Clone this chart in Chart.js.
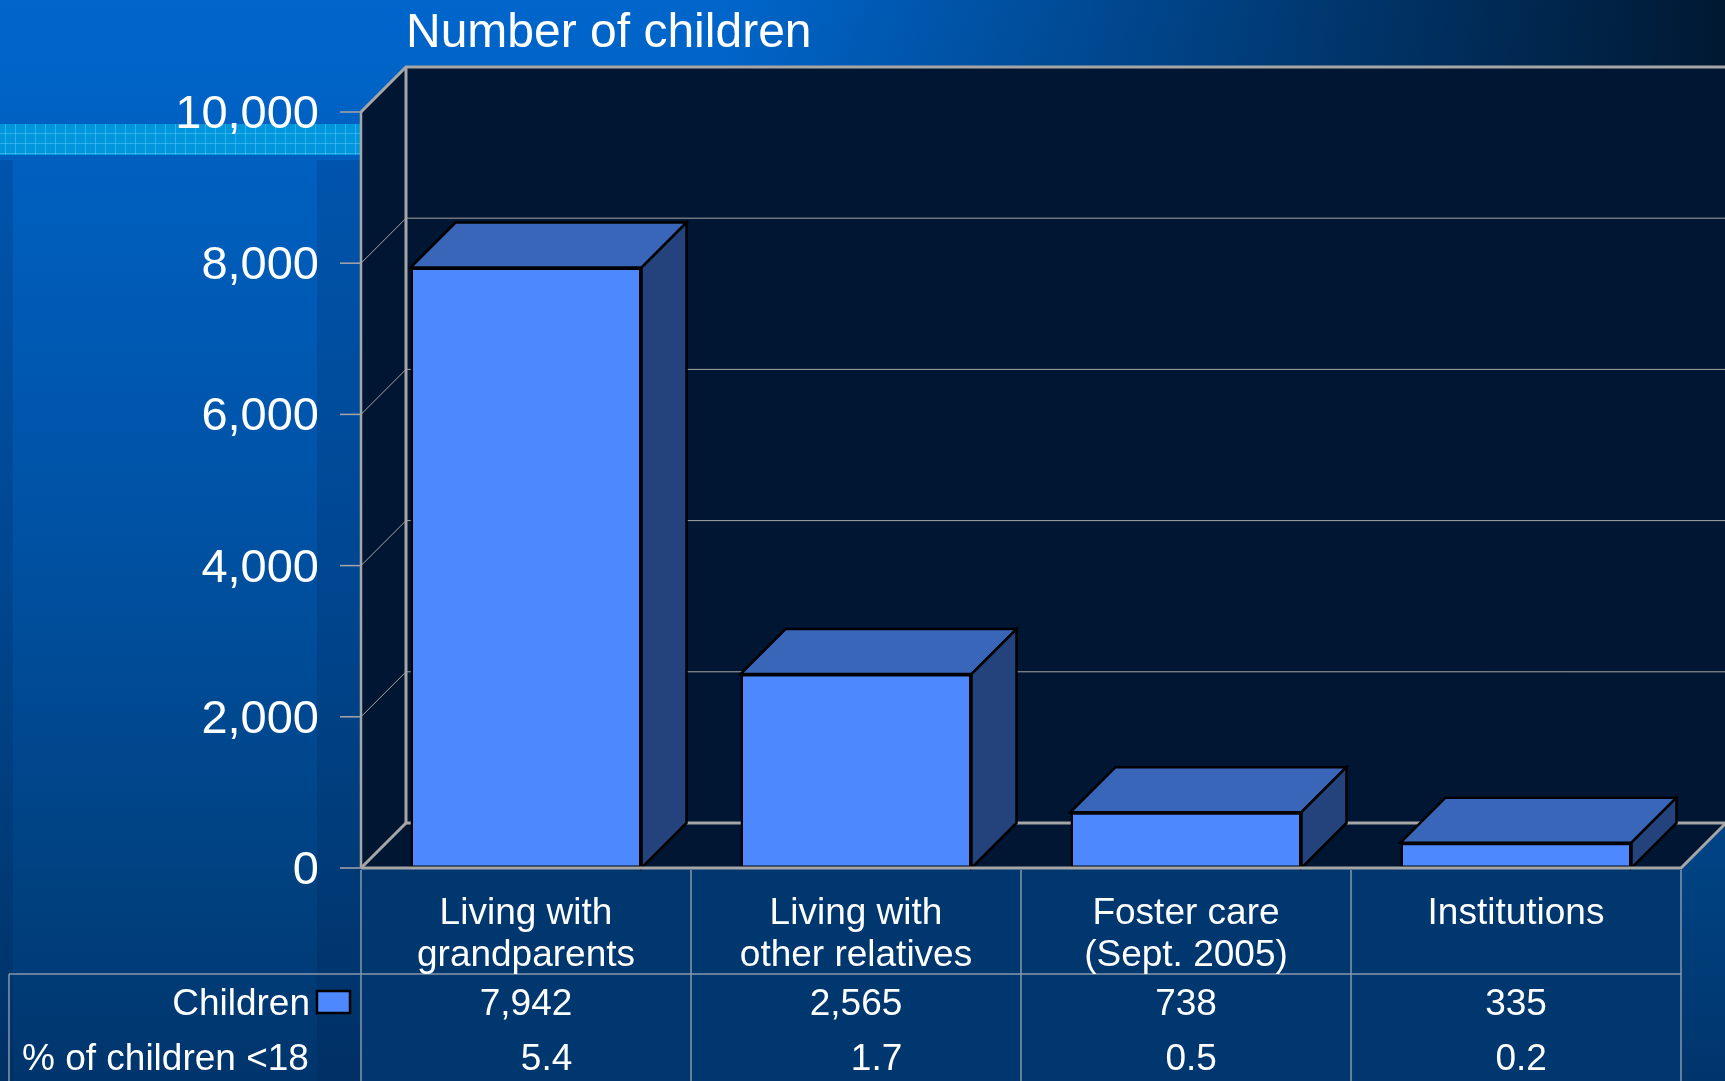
<!DOCTYPE html>
<html>
<head>
<meta charset="utf-8">
<title>Number of children</title>
<script src="https://cdn.jsdelivr.net/npm/chart.js@4.4.1/dist/chart.umd.min.js"></script>
<style>
    html, body { margin: 0; padding: 0; background: #003f80; overflow: hidden; }
    canvas { display: block; }
</style>
</head>
<body>
<canvas id="childrenChart" width="1725" height="1081"></canvas>
<script>
// Chart data
const categories = [
    ['Living with', 'grandparents'],
    ['Living with', 'other relatives'],
    ['Foster care', '(Sept. 2005)'],
    ['Institutions']
];
const childrenCounts = [7942, 2565, 738, 335];
const percentUnder18 = [5.4, 1.7, 0.5, 0.2];
const yTickValues = [0, 2000, 4000, 6000, 8000, 10000];
const seriesName = 'Children';
const percentRowName = '% of children <18';
const chartTitle = 'Number of children';

// Look
const FONT = '"Liberation Sans", Arial, sans-serif';
const DEPTH_X = 45;
const DEPTH_Y = 45;
const PLOT_BG = '#011633';
const TABLE_BG = '#00376f';
const GRID = '#a6a6a6';
const TABLE_LINE = '#8797ab';
const BAR_FRONT = '#4d88ff';
const BAR_TOP = '#3a66ba';
const BAR_SIDE = '#24437c';
const TEXT_DY = 3; // nudge for middle baseline

function line(ctx, pts, width, color) {
    ctx.save();
    ctx.strokeStyle = color;
    ctx.lineWidth = width;
    ctx.beginPath();
    ctx.moveTo(pts[0][0], pts[0][1]);
    for (let i = 1; i < pts.length; i++) ctx.lineTo(pts[i][0], pts[i][1]);
    ctx.stroke();
    ctx.restore();
}

function drawSlideBackground(ctx, w, h) {
    let g = ctx.createLinearGradient(0, 0, 0, h);
    g.addColorStop(0, '#0066cc');
    g.addColorStop(0.5, '#0051a3');
    g.addColorStop(0.8, '#004282');
    g.addColorStop(1, '#00356c');
    ctx.fillStyle = g;
    ctx.fillRect(0, 0, w, h);

    // subtle darker bands of the slide template
    ctx.fillStyle = 'rgba(0, 20, 60, 0.15)';
    ctx.fillRect(0, 160, 13, h - 160);
    ctx.fillRect(317, 160, 44, h - 160);

    // dark fade towards the top right corner
    g = ctx.createLinearGradient(0, 0, w, 0);
    g.addColorStop(0, 'rgba(0, 22, 45, 0)');
    g.addColorStop(0.42, 'rgba(0, 22, 45, 0)');
    g.addColorStop(1, 'rgba(0, 22, 45, 0.97)');
    ctx.fillStyle = g;
    ctx.fillRect(0, 0, w, 120);

    // cyan grid stripe on the left
    ctx.fillStyle = '#0096dc';
    ctx.fillRect(0, 124, 360, 31);
    ctx.save();
    ctx.strokeStyle = 'rgba(90, 200, 255, 0.5)';
    ctx.lineWidth = 1;
    ctx.beginPath();
    for (let x = 5.5; x < 360; x += 10) { ctx.moveTo(x, 124); ctx.lineTo(x, 155); }
    for (let y = 133.5; y < 155; y += 10) { ctx.moveTo(0, y); ctx.lineTo(360, y); }
    ctx.stroke();
    ctx.restore();
}

const threeDPlugin = {
    id: 'threeD',
    beforeDraw(chart) {
        const ctx = chart.ctx;
        const w = chart.width, h = chart.height;
        const { left, right, top, bottom } = chart.chartArea;
        const yScale = chart.scales.y;

        drawSlideBackground(ctx, w, h);

        // side wall, back wall and floor
        ctx.fillStyle = PLOT_BG;
        ctx.beginPath();
        ctx.moveTo(left, top);
        ctx.lineTo(left + DEPTH_X, top - DEPTH_Y);
        ctx.lineTo(w + 10, top - DEPTH_Y);
        ctx.lineTo(w + 10, bottom - DEPTH_Y);
        ctx.lineTo(right + DEPTH_X, bottom - DEPTH_Y);
        ctx.lineTo(right, bottom);
        ctx.lineTo(left, bottom);
        ctx.closePath();
        ctx.fill();

        // table background
        ctx.fillStyle = TABLE_BG;
        ctx.fillRect(left, bottom, right - left, h - bottom);

        // gridlines on side + back walls
        const maxV = yTickValues[yTickValues.length - 1];
        yTickValues.forEach(v => {
            const y = yScale.getPixelForValue(v);
            if (v === 0) {
                line(ctx, [[left + DEPTH_X, y - DEPTH_Y], [w + 10, y - DEPTH_Y]], 3, GRID);
            } else if (v === maxV) {
                line(ctx, [[left, y], [left + DEPTH_X, y - DEPTH_Y], [w + 10, y - DEPTH_Y]], 3, GRID);
            } else {
                line(ctx, [[left, y], [left + DEPTH_X, y - DEPTH_Y], [w + 10, y - DEPTH_Y]], 1, GRID);
            }
        });
        // back wall left edge
        line(ctx, [[left + DEPTH_X, top - DEPTH_Y], [left + DEPTH_X, bottom - DEPTH_Y]], 3, GRID);
        // floor left diagonal
        line(ctx, [[left, bottom], [left + DEPTH_X, bottom - DEPTH_Y]], 3, GRID);
    },
    afterDatasetsDraw(chart) {
        const ctx = chart.ctx;
        const h = chart.height;
        const { left, right, top, bottom } = chart.chartArea;
        const yScale = chart.scales.y;
        const xScale = chart.scales.x;

        // top and side faces of each bar
        const meta = chart.getDatasetMeta(0);
        ctx.save();
        ctx.lineJoin = 'miter';
        ctx.strokeStyle = '#000';
        ctx.lineWidth = 2.5;
        meta.data.forEach(bar => {
            const p = bar.getProps(['x', 'y', 'base', 'width'], true);
            const x1 = p.x - p.width / 2, x2 = p.x + p.width / 2;
            ctx.fillStyle = BAR_TOP;
            ctx.beginPath();
            ctx.moveTo(x1, p.y);
            ctx.lineTo(x1 + DEPTH_X, p.y - DEPTH_Y);
            ctx.lineTo(x2 + DEPTH_X, p.y - DEPTH_Y);
            ctx.lineTo(x2, p.y);
            ctx.closePath();
            ctx.fill();
            ctx.stroke();
            ctx.fillStyle = BAR_SIDE;
            ctx.beginPath();
            ctx.moveTo(x2, p.y);
            ctx.lineTo(x2 + DEPTH_X, p.y - DEPTH_Y);
            ctx.lineTo(x2 + DEPTH_X, p.base - DEPTH_Y);
            ctx.lineTo(x2, p.base);
            ctx.closePath();
            ctx.fill();
            ctx.stroke();
        });
        ctx.restore();

        // front edges
        line(ctx, [[left, top], [left, bottom]], 2.5, GRID);
        line(ctx, [[left, bottom], [right, bottom], [right + DEPTH_X, bottom - DEPTH_Y]], 3, GRID);

        // y ticks and labels
        ctx.save();
        ctx.font = '47px ' + FONT;
        ctx.fillStyle = '#fff';
        ctx.textAlign = 'right';
        ctx.textBaseline = 'middle';
        yTickValues.forEach(v => {
            const y = yScale.getPixelForValue(v);
            line(ctx, [[left - 21, y], [left, y]], 1.5, GRID);
            ctx.fillText(v.toLocaleString('en-US'), left - 42, y + TEXT_DY);
        });
        ctx.restore();

        // title
        ctx.save();
        ctx.font = '48px ' + FONT;
        ctx.fillStyle = '#fff';
        ctx.textAlign = 'left';
        ctx.textBaseline = 'middle';
        ctx.fillText(chartTitle, left + DEPTH_X, 31 + TEXT_DY);
        ctx.restore();

        // data table
        const rowLineY = bottom + 106;
        ctx.save();
        ctx.strokeStyle = TABLE_LINE;
        ctx.lineWidth = 1.5;
        ctx.beginPath();
        ctx.moveTo(9, rowLineY); ctx.lineTo(right, rowLineY);
        ctx.moveTo(9, rowLineY); ctx.lineTo(9, h);
        for (let i = 0; i <= categories.length; i++) {
            const x = left + (right - left) * i / categories.length;
            ctx.moveTo(x, bottom + 2); ctx.lineTo(x, h);
        }
        ctx.stroke();

        ctx.font = '37px ' + FONT;
        ctx.fillStyle = '#fff';
        ctx.textBaseline = 'middle';
        categories.forEach((lines, i) => {
            const cx = xScale.getPixelForValue(i);
            ctx.textAlign = 'center';
            lines.forEach((t, j) => ctx.fillText(t, cx, bottom + 43 + j * 42 + TEXT_DY));
            const countText = childrenCounts[i].toLocaleString('en-US');
            ctx.fillText(countText, cx, bottom + 134 + TEXT_DY);
            const rightEdge = cx + ctx.measureText(countText).width / 2;
            ctx.textAlign = 'right';
            ctx.fillText(percentUnder18[i].toFixed(1), rightEdge, bottom + 189 + TEXT_DY);
        });

        // row headers with legend key
        ctx.textAlign = 'right';
        ctx.fillText(seriesName, 310, bottom + 134 + TEXT_DY);
        ctx.fillStyle = BAR_FRONT;
        ctx.fillRect(317, bottom + 123, 33, 22);
        ctx.strokeStyle = '#000';
        ctx.lineWidth = 2.5;
        ctx.strokeRect(317, bottom + 123, 33, 22);
        ctx.fillStyle = '#fff';
        ctx.textAlign = 'left';
        ctx.fillText(percentRowName, 22, bottom + 189 + TEXT_DY);
        ctx.restore();
    }
};

const ctx = document.getElementById('childrenChart').getContext('2d');
const childrenChart = new Chart(ctx, {
    type: 'bar',
    data: {
        labels: categories,
        datasets: [{
            label: seriesName,
            data: childrenCounts,
            backgroundColor: BAR_FRONT,
            borderColor: '#000',
            borderWidth: 2.5,
            borderSkipped: false,
            barPercentage: 0.7,
            categoryPercentage: 1.0
        }]
    },
    options: {
        responsive: false,
        animation: false,
        events: [],
        devicePixelRatio: 1,
        layout: {
            padding: { left: 361, right: 44, top: 112, bottom: 213 }
        },
        plugins: {
            legend: { display: false },
            tooltip: { enabled: false },
            title: { display: false }
        },
        scales: {
            x: { display: false, offset: true },
            y: {
                display: false,
                min: yTickValues[0],
                max: yTickValues[yTickValues.length - 1],
                ticks: { stepSize: 2000 }
            }
        }
    },
    plugins: [threeDPlugin]
});
</script>
</body>
</html>
